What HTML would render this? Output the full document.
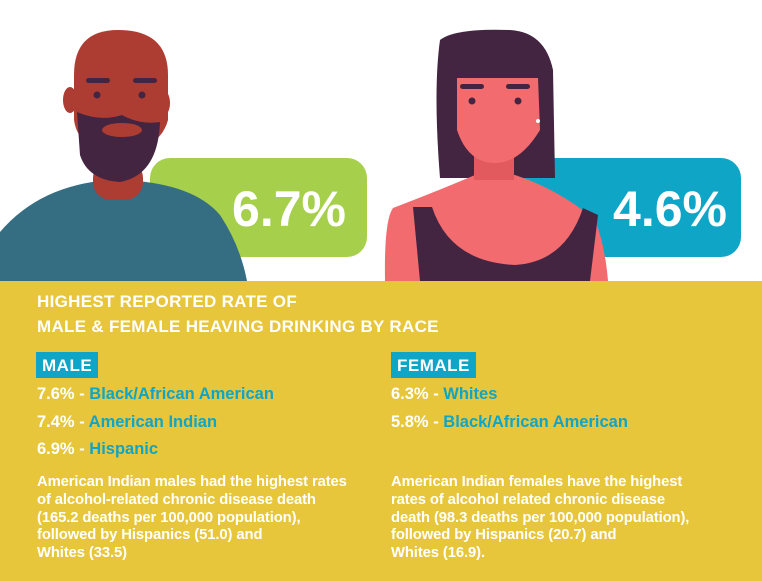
<!DOCTYPE html>
<html><head><meta charset="utf-8"><style>
body{margin:0;width:762px;height:581px;position:relative;overflow:hidden;background:#fff;font-family:"Liberation Sans",sans-serif;}
.abs{position:absolute;white-space:nowrap}
.b{color:#0ea5c6}
.h{font-size:17px;font-weight:bold;color:#fff;letter-spacing:0.3px}
.li{font-size:16.5px;font-weight:bold;color:#fff}
.p{font-size:14.8px;font-weight:bold;color:#fff;line-height:17.8px;letter-spacing:-0.1px}
.tag{position:absolute;background:#0ea5c6;color:#fff;font-weight:bold;font-size:17px;height:26px;line-height:27px;padding:0 6px;letter-spacing:0.5px}
</style></head><body>
<svg class="abs" style="left:0;top:0" width="762" height="290">
<rect x="150" y="158" width="217" height="99" rx="20" fill="#a6cf4b"/>
<rect x="515" y="158" width="226" height="99" rx="20" fill="#0ea5c6"/>
<path d="M0,232 Q40,185 110,180 Q190,180 220,215 Q240,245 247,281 L0,281Z" fill="#356d82"/>
<rect x="93" y="160" width="50" height="40" rx="18" fill="#ad3d32"/>
<ellipse cx="70" cy="100" rx="7" ry="13" fill="#ad3d32"/>
<ellipse cx="163" cy="103" rx="7" ry="13" fill="#ad3d32"/>
<path d="M74,75 Q74,30 118,30 Q168,30 168,75 L168,120 Q160,150 118,152 Q78,150 74,120Z" fill="#ad3d32"/>
<path d="M77,112 Q100,122 122,115 Q140,125 160,122 Q158,175 120,182 Q88,180 80,155Z" fill="#432542"/>
<ellipse cx="122" cy="130" rx="20" ry="7" fill="#ad3d32"/>
<circle cx="97" cy="95" r="3.5" fill="#432542"/><circle cx="142" cy="95" r="3.5" fill="#432542"/>
<rect x="86" y="78" width="24" height="5" rx="2.5" fill="#432542"/><rect x="133" y="78" width="24" height="5" rx="2.5" fill="#432542"/>
<path d="M440,40 Q455,28 510,30 Q545,32 553,70 L555,178 L440,178 Q433,90 440,40Z" fill="#432542"/>
<path d="M393,208 Q440,190 475,175 L515,175 Q560,190 595,220 Q605,245 608,281 L385,281 Q384,220 393,208Z" fill="#f26b6f"/>
<path d="M413,207 L432,207 Q450,262 515,265 Q565,262 583,208 L598,215 L590,281 L420,281Z" fill="#432542"/>
<rect x="474" y="140" width="40" height="40" fill="#e25a5e"/>
<path d="M457,78 L538,78 L540,130 Q520,163 495,163 Q468,163 457,130Z" fill="#f26b6f"/>
<path d="M472,48 L478,78 L540,78 L541,48Z" fill="#432542"/>
<circle cx="472" cy="101" r="3.5" fill="#432542"/><circle cx="518" cy="101" r="3.5" fill="#432542"/>
<rect x="460" y="84" width="24" height="5" rx="2.5" fill="#432542"/><rect x="506" y="84" width="24" height="5" rx="2.5" fill="#432542"/>
<circle cx="538" cy="121" r="2" fill="#fff"/>
<text x="289" y="226" text-anchor="middle" font-family="Liberation Sans" font-weight="bold" font-size="50" fill="#fff">6.7%</text>
<text x="670" y="226" text-anchor="middle" font-family="Liberation Sans" font-weight="bold" font-size="50" fill="#fff">4.6%</text>
</svg>
<div class="abs" style="left:0;top:281px;width:762px;height:300px;background:#e8c63c"></div>
<div class="abs h" style="left:37px;top:292px">HIGHEST REPORTED RATE OF</div>
<div class="abs h" style="left:37px;top:317px">MALE &amp; FEMALE HEAVING DRINKING BY RACE</div>
<div class="tag" style="left:36px;top:352px">MALE</div>
<div class="tag" style="left:391px;top:352px">FEMALE</div>
<div class="abs li" style="left:37px;top:385px">7.6% - <span class="b">Black/African American</span></div>
<div class="abs li" style="left:37px;top:413px">7.4% - <span class="b">American Indian</span></div>
<div class="abs li" style="left:37px;top:440px">6.9% - <span class="b">Hispanic</span></div>
<div class="abs li" style="left:391px;top:385px">6.3% - <span class="b">Whites</span></div>
<div class="abs li" style="left:391px;top:413px">5.8% - <span class="b">Black/African American</span></div>
<div class="abs p" style="left:37px;top:474px">American Indian males had the highest rates<br>of alcohol-related chronic disease death<br>(165.2 deaths per 100,000 population),<br>followed by Hispanics (51.0) and<br>Whites (33.5)</div>
<div class="abs p" style="left:391px;top:474px">American Indian females have the highest<br>rates of alcohol related chronic disease<br>death (98.3 deaths per 100,000 population),<br>followed by Hispanics (20.7) and<br>Whites (16.9).</div>
</body></html>
